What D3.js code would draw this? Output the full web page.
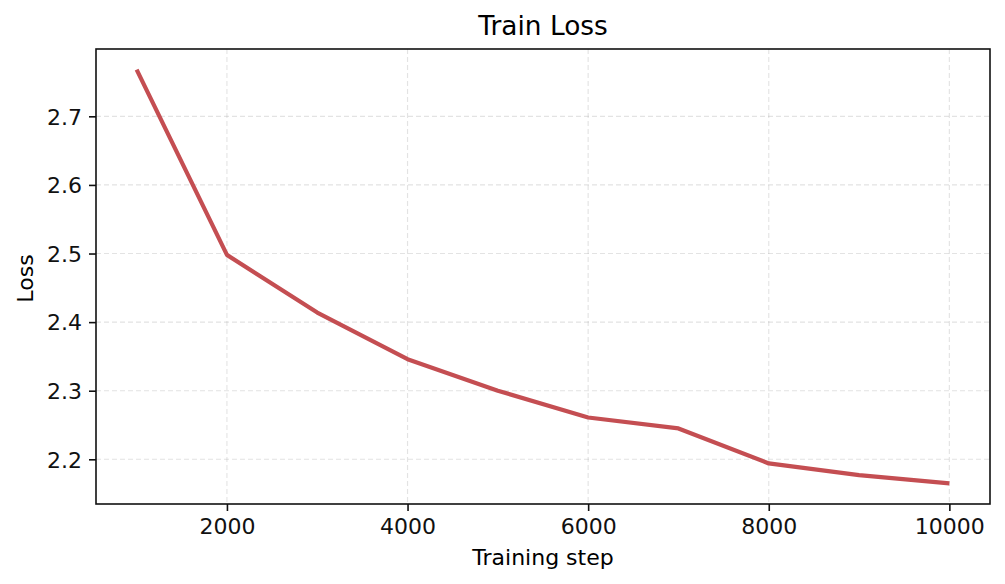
<!DOCTYPE html>
<html>
<head>
<meta charset="utf-8">
<script src="https://cdn.jsdelivr.net/npm/d3@7"></script>
<style>
  html, body { margin: 0; padding: 0; background: #fff; }
  svg { display: block; font-family: "DejaVu Sans", sans-serif; }
</style>
</head>
<body>
<svg id="chart" width="1005" height="584"></svg>
<script>
const steps = [1000, 2000, 3000, 4000, 5000, 6000, 7000, 8000, 9000, 10000];
const loss  = [2.768, 2.498, 2.414, 2.346, 2.300, 2.261, 2.245, 2.194, 2.177, 2.165];
const xTicks = [2000, 4000, 6000, 8000, 10000];
const yTicks = [2.2, 2.3, 2.4, 2.5, 2.6, 2.7];
const titleText = "Train Loss";
const xLabel = "Training step";
const yLabel = "Loss";

const W = 1005, H = 584;
const m = { left: 96, right: 1005 - 990, top: 49, bottom: 584 - 504 };
const svg = d3.select("#chart");

const xMin = d3.min(steps), xMax = d3.max(steps);
const xPad = (xMax - xMin) * 0.05;
const yMin = d3.min(loss), yMax = d3.max(loss);
const yPad = (yMax - yMin) * 0.05;

const x = d3.scaleLinear().domain([xMin - xPad, xMax + xPad]).range([m.left, W - m.right]);
const y = d3.scaleLinear().domain([yMin - yPad, yMax + yPad]).range([H - m.bottom, m.top]);

// grid
const grid = svg.append("g");
grid.selectAll(".gx").data(xTicks).enter().append("line")
  .attr("x1", d => x(d)).attr("x2", d => x(d))
  .attr("y1", m.top).attr("y2", H - m.bottom)
  .attr("stroke", "#b0b0b0").attr("stroke-opacity", 0.35)
  .attr("stroke-width", 1.1).attr("stroke-dasharray", "5,3");
grid.selectAll(".gy").data(yTicks).enter().append("line")
  .attr("x1", m.left).attr("x2", W - m.right)
  .attr("y1", d => y(d)).attr("y2", d => y(d))
  .attr("stroke", "#b0b0b0").attr("stroke-opacity", 0.35)
  .attr("stroke-width", 1.1).attr("stroke-dasharray", "5,3");

// line
const line = d3.line().x((d, i) => x(steps[i])).y(d => y(d));
svg.append("path").datum(loss)
  .attr("d", line)
  .attr("fill", "none")
  .attr("stroke", "#c44e52")
  .attr("stroke-width", 4.2)
  .attr("stroke-linejoin", "round");

// axes
const xAxis = d3.axisBottom(x).tickValues(xTicks).tickFormat(d3.format("d")).tickSize(7).tickPadding(7);
const yAxis = d3.axisLeft(y).tickValues(yTicks).tickFormat(d3.format(".1f")).tickSize(7).tickPadding(7);

const gx = svg.append("g").attr("transform", `translate(0,${H - m.bottom})`).call(xAxis);
const gy = svg.append("g").attr("transform", `translate(${m.left},0)`).call(yAxis);
[gx, gy].forEach(g => {
  g.select(".domain").remove();
  g.selectAll(".tick line").attr("stroke", "#111").attr("stroke-width", 1.6);
  g.selectAll(".tick text").attr("fill", "#111").style("font-size", "22px")
    .style("font-family", "'DejaVu Sans', sans-serif");
});
gx.selectAll(".tick text").attr("dy", "0.71em");
gy.selectAll(".tick text").attr("dy", "0.35em");

// frame
svg.append("rect")
  .attr("x", m.left).attr("y", m.top)
  .attr("width", W - m.left - m.right).attr("height", H - m.top - m.bottom)
  .attr("fill", "none").attr("stroke", "#111").attr("stroke-width", 1.6);

// title & labels
svg.append("text").attr("x", (m.left + W - m.right) / 2).attr("y", 35)
  .attr("text-anchor", "middle").style("font-size", "26.4px").attr("fill", "#000")
  .text(titleText);
svg.append("text").attr("x", (m.left + W - m.right) / 2).attr("y", 565)
  .attr("text-anchor", "middle").style("font-size", "22px").attr("fill", "#000")
  .text(xLabel);
svg.append("text")
  .attr("transform", `translate(33,${(m.top + H - m.bottom) / 2 + 2}) rotate(-90)`)
  .attr("text-anchor", "middle").style("font-size", "22px").attr("fill", "#000")
  .text(yLabel);
</script>
</body>
</html>
